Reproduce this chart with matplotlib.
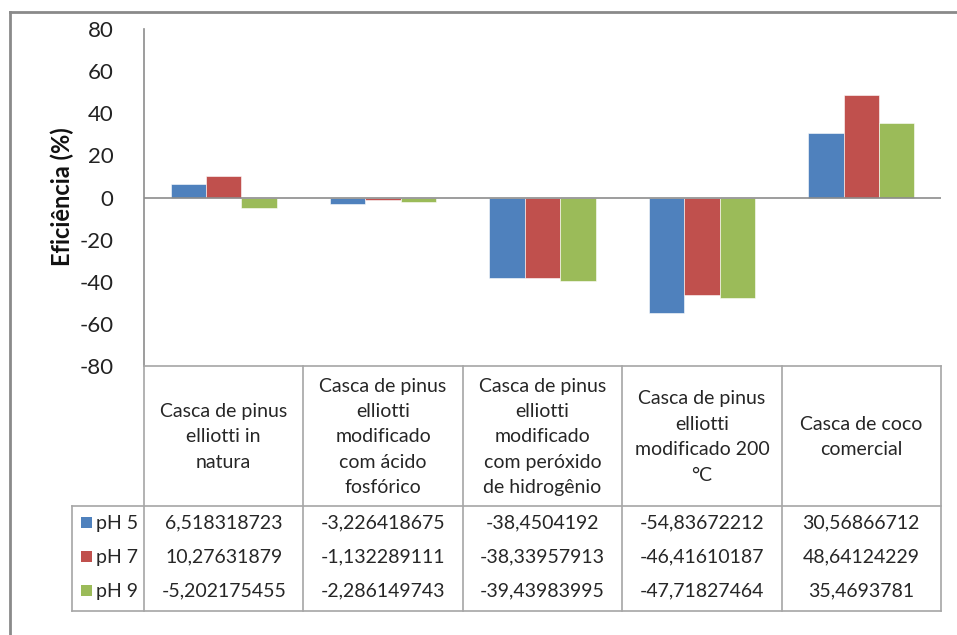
import matplotlib.pyplot as plt
from matplotlib.patches import Rectangle

plt.rcParams['font.family'] = ['Lato', 'DejaVu Sans']

# data
categorias = ["Casca de pinus\nelliotti in\nnatura",
              "Casca de pinus\nelliotti\nmodificado\ncom ácido\nfosfórico",
              "Casca de pinus\nelliotti\nmodificado\ncom peróxido\nde hidrogênio",
              "Casca de pinus\nelliotti\nmodificado 200\n°C",
              "Casca de coco\ncomercial"]
series = ["pH 5", "pH 7", "pH 9"]
ph5 = [6.518318723, -3.226418675, -38.4504192, -54.83672212, 30.56866712]
ph7 = [10.27631879, -1.132289111, -38.33957913, -46.41610187, 48.64124229]
ph9 = [-5.202175455, -2.286149743, -39.43983995, -47.71827464, 35.4693781]
cores = ["#4F81BD", "#C0504D", "#9BBB59"]
yticks = [-80, -60, -40, -20, 0, 20, 40, 60, 80]

W, H = 957, 635
fig = plt.figure(figsize=(W / 100, H / 100), dpi=100)
fig.patch.set_facecolor("white")

# pixel layout
px_left, px_right, px_top, px_bot = 144, 941, 29, 366
tab_left, row_top, tab_bot = 72, 506, 611

ax = fig.add_axes([px_left / W, 1 - px_bot / H,
                   (px_right - px_left) / W, (px_bot - px_top) / H])
n = len(categorias)
w = 1 / 4.5
for i, (vals, cor) in enumerate(zip([ph5, ph7, ph9], cores)):
    xs = [k + (i - 1) * w for k in range(n)]
    ax.bar(xs, vals, width=w, color=cor, edgecolor="white", linewidth=0.4, zorder=2)
ax.set_xlim(-0.5, n - 0.5)
ax.set_ylim(-80, 80)
ax.set_yticks(yticks)
ax.set_yticklabels([str(t) for t in yticks], fontsize=16, color="#222222")
ax.tick_params(axis="y", length=0, pad=22)
ax.set_xticks([])
ax.axhline(0, color="#8C8C8C", linewidth=1.2, zorder=3)
for s in ["top", "right", "bottom"]:
    ax.spines[s].set_visible(False)
ax.spines["left"].set_color("#8C8C8C")
ax.spines["left"].set_linewidth(1.2)
ax.patch.set_alpha(0)

# overlay in pixel coordinates for the frame and data table
ov = fig.add_axes([0, 0, 1, 1])
ov.set_xlim(0, W)
ov.set_ylim(H, 0)
ov.axis("off")
ov.patch.set_alpha(0)

ov.text(62, 197, "Eficiência (%)", rotation=90, ha="center", va="center",
        fontsize=17, fontweight="bold", color="#111111")

# outer chart frame
ov.plot([10, 10], [H, 12], color="#8A8A8A", lw=2)
ov.plot([10, W], [12, 12], color="#8A8A8A", lw=2)

lc = "#A6A6A6"
colx = [px_left + k * (px_right - px_left) / n for k in range(n + 1)]
for x in colx:
    ov.plot([x, x], [px_bot, tab_bot], color=lc, lw=1.2)
ov.plot([px_left, px_right], [px_bot, px_bot], color=lc, lw=1.2)
ov.plot([tab_left, px_right], [row_top, row_top], color=lc, lw=1.2)
ov.plot([tab_left, px_right], [tab_bot, tab_bot], color=lc, lw=1.2)
ov.plot([tab_left, tab_left], [row_top, tab_bot], color=lc, lw=1.2)

txt = "#262626"
for k, cat in enumerate(categorias):
    cx = (colx[k] + colx[k + 1]) / 2
    ov.text(cx, (px_bot + row_top) / 2 + 1, cat, ha="center", va="center",
            fontsize=14, color=txt, linespacing=1.6)

row_y = [523, 557, 591]
for r, (nome, vals, cor) in enumerate(zip(series, [ph5, ph7, ph9], cores)):
    y = row_y[r]
    ov.add_patch(Rectangle((81, y - 6), 11, 11, facecolor=cor, edgecolor="none"))
    ov.text(96, y, nome, ha="left", va="center", fontsize=14, color=txt)
    for k, v in enumerate(vals):
        cx = (colx[k] + colx[k + 1]) / 2
        ov.text(cx, y, f"{v:.10g}".replace(".", ","), ha="center", va="center",
                fontsize=14, color=txt)

fig.savefig("out.png", dpi=100)
